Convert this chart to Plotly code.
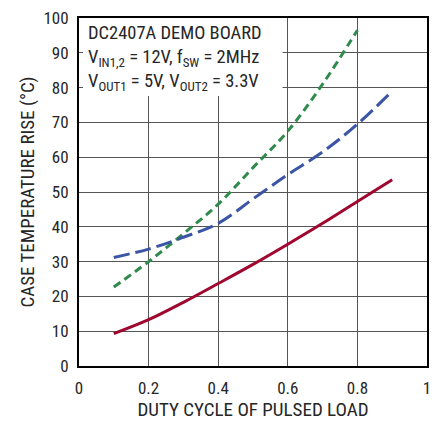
import plotly.graph_objects as go

# Duty cycle of the pulsed load
duty_red = [0.1, 0.2, 0.3, 0.4, 0.5, 0.6, 0.7, 0.8, 0.9]
temp_red = [9.3, 13.3, 18.3, 23.7, 29.2, 35.0, 41.0, 47.3, 53.5]

duty_blue = [0.1, 0.2, 0.3, 0.4, 0.5, 0.6, 0.7, 0.8, 0.9]
temp_blue = [31.2, 33.6, 37.0, 41.0, 48.0, 55.0, 61.5, 69.5, 79.0]

duty_green = [0.1, 0.2, 0.3, 0.4, 0.5, 0.6, 0.7, 0.8]
temp_green = [22.7, 30.0, 38.0, 46.5, 57.0, 67.5, 81.0, 96.5]

x_ticks = [0, 0.2, 0.4, 0.6, 0.8, 1]
x_tick_text = ["0", "0.2", "0.4", "0.6", "0.8", "1"]
y_ticks = list(range(0, 101, 10))

FONT = "Liberation Sans Narrow, Roboto Condensed, Arial Narrow, Liberation Sans, sans-serif"
TEXT = "#262626"

fig = go.Figure()
fig.add_trace(go.Scatter(x=duty_green, y=temp_green, mode="lines", line_shape="spline",
                         line=dict(color="#2f8a4c", width=3, dash="8px,5px")))
fig.add_trace(go.Scatter(x=duty_blue, y=temp_blue, mode="lines", line_shape="spline",
                         line=dict(color="#3a55a6", width=3, dash="16px,6px")))
fig.add_trace(go.Scatter(x=duty_red, y=temp_red, mode="lines", line_shape="spline",
                         line=dict(color="#a0072f", width=3)))

# White label box covering the grid in the upper-left corner
fig.add_shape(type="rect", xref="x", yref="y", x0=0, x1=0.585, y0=77.6, y1=100,
              fillcolor="white", line=dict(width=0), layer="between")

fig.add_annotation(
    xref="paper", yref="paper", x=0.02, y=0.995, xanchor="left", yanchor="top",
    align="left", showarrow=False,
    text=("DC2407A DEMO BOARD<br>"
          "V<sub>IN1,2</sub> = 12V, f<sub>SW</sub> = 2MHz<br>"
          "V<sub>OUT1</sub> = 5V, V<sub>OUT2</sub> = 3.3V"),
    font=dict(family=FONT, size=18.5, color=TEXT),
)

axis_common = dict(
    showgrid=True, gridcolor="#555", gridwidth=1,
    showline=True, linecolor="black", linewidth=2, mirror=True,
    ticks="inside", ticklen=4, tickcolor="#555", tickwidth=1,
    zeroline=False,
    tickfont=dict(family=FONT, size=17, color=TEXT),
)

fig.update_layout(
    width=439, height=424,
    margin=dict(l=79, r=8, t=15, b=57),
    paper_bgcolor="white", plot_bgcolor="white",
    showlegend=False,
    xaxis=dict(range=[0, 1], tickvals=x_ticks, ticktext=x_tick_text,
               ticklabelstandoff=6,
               title=dict(text="DUTY CYCLE OF PULSED LOAD", standoff=4,
                          font=dict(family=FONT, size=19, color=TEXT)),
               **axis_common),
    yaxis=dict(range=[0, 100], tickvals=y_ticks,
               ticklabelstandoff=5,
               title=dict(text="CASE TEMPERATURE RISE (°C)", standoff=4,
                          font=dict(family=FONT, size=19, color=TEXT)),
               **axis_common),
)

fig.write_html("out.html")
